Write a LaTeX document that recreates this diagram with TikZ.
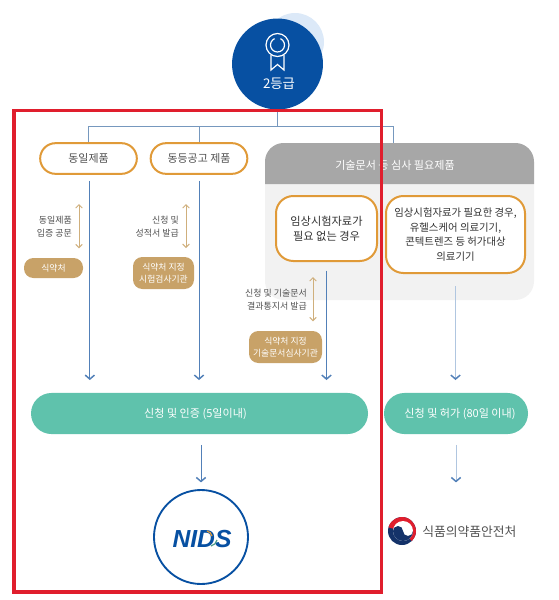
\documentclass[tikz,border=0pt]{standalone}
\usepackage{fontspec}
\setmainfont{Noto Sans CJK KR}
\newfontfamily\logofont{Liberation Sans}
\usepackage{tikz}
\usetikzlibrary{arrows.meta}
\definecolor{gradeblue}{RGB}{7,80,162}
\definecolor{gradepale}{RGB}{220,233,248}
\definecolor{treeline}{RGB}{118,152,190}
\definecolor{flowblue}{RGB}{82,128,184}
\definecolor{flowpale}{RGB}{176,198,224}
\definecolor{goldline}{RGB}{207,175,124}
\definecolor{goldbox}{RGB}{200,162,104}
\definecolor{orangeline}{RGB}{224,154,56}
\definecolor{mintbox}{RGB}{95,194,172}
\definecolor{panelgray}{RGB}{242,242,242}
\definecolor{headgray}{RGB}{167,167,167}
\definecolor{textgray}{RGB}{80,80,80}
\definecolor{redframe}{RGB}{224,30,45}
\definecolor{navyflag}{RGB}{20,50,105}
\tikzset{
  pill/.style={
    draw=orangeline, line width=1.5pt, rounded corners=11.5pt, fill=white,
    text=textgray, font=\fontsize{8.2}{10}\selectfont,
    minimum width=72.5pt, minimum height=23pt, inner sep=0pt
  },
  casebox/.style={
    draw=orangeline, line width=1.5pt, rounded corners=13pt, fill=white,
    text=black!80, font=\fontsize{8.4}{11}\selectfont, align=center, inner sep=0pt
  },
  goldbadge/.style={
    fill=goldbox, rounded corners=7pt, text=white,
    font=\fontsize{6.6}{9.2}\selectfont, align=center, inner sep=0pt
  },
  mintpill/.style={
    fill=mintbox, rounded corners=15.4pt, text=white,
    font=\fontsize{8.3}{10}\selectfont, minimum height=30.8pt, inner sep=0pt
  },
  note/.style={
    text=textgray, font=\fontsize{6.7}{9.6}\selectfont, align=right, inner sep=0pt
  },
  tree/.style={treeline, line width=0.7pt},
  flow/.style={-{Straight Barb[length=3pt,width=7pt,line width=1.1pt,color=flowblue]}, flowblue, line width=0.75pt},
  flowlight/.style={flow, flowpale},
  both/.style={{Straight Barb[length=2.5pt,width=5pt]}-{Straight Barb[length=2.5pt,width=5pt]}, goldline, line width=0.75pt}
}
\begin{document}
\begin{tikzpicture}[x=0.75pt, y=-0.75pt]
  \useasboundingbox (0,0) rectangle (558,600);
  % grade badge
  \fill[gradepale] (295,42) circle[radius=29];
  \node[circle, fill=gradeblue, minimum size=68.2pt, inner sep=0pt] (grade) at (277.5,64) {};
  \node[text=white, font=\fontsize{10}{10}\selectfont, inner sep=0pt] (gradetxt) at (279,84) {2등급};
  \coordinate (medal) at (277.5,45);
  \draw[white, line width=0.9pt] (medal) circle[radius=11.5];
  \draw[white, line width=0.9pt] ([shift={(295:7)}]medal) arc[start angle=295, end angle=605, radius=7];
  \draw[white, line width=0.9pt] (271,55) -- (271,70) -- (277.5,64.5) -- (284,70) -- (284,55);

  % gray panel
  \node[fill=panelgray, rounded corners=14pt, minimum width=201.75pt, minimum height=117.75pt, inner sep=0pt] (panel) at (399.5,221.5) {};
  \fill[headgray] (265,184) [rounded corners=14pt] -- (265,143) -- (534,143) [sharp corners] -- (534,184) -- cycle;
  \node[text=white, font=\fontsize{8.3}{10}\selectfont, inner sep=0pt] (head) at (395,165) {기술문서 등 심사 필요제품};
  \coordinate (drop) at (393,143);

  \node[pill] (same) at (88.5,158.5) {동일제품};
  \node[pill] (equal) at (199,158.5) {동등공고 제품};
  \node[casebox, minimum width=75.75pt, minimum height=48.75pt] (noclin) at (326.5,228.5) {임상시험자료가\\필요 없는 경우};
  \node[casebox, font=\fontsize{7.8}{10.9}\selectfont, minimum width=104.25pt, minimum height=57.75pt] (clin) at (455.5,234.5) {임상시험자료가 필요한 경우,\\유헬스케어 의료기기,\\콘텍트렌즈 등 허가대상\\의료기기};

  \node[goldbadge, minimum width=44.25pt, minimum height=15pt] (mfds) at (53.5,268) {식약처};
  \node[goldbadge, minimum width=45.75pt, minimum height=24pt] (lab) at (163.5,273) {식약처 지정\\시험검사기관};
  \node[goldbadge, minimum width=54.75pt, minimum height=24pt] (review) at (285.5,347) {식약처 지정\\기술문서심사기관};

  \node[note, anchor=east] (note1) at (72,226.5) {동일제품\\입증 공문};
  \node[note, anchor=east] (note2) at (179,226.5) {신청 및\\성적서 발급};
  \node[note, anchor=east] (note3) at (307,299.5) {신청 및 기술문서\\결과통지서 발급};

  \node[mintpill, minimum width=252.75pt] (cert) at (199.5,413.5) {\hspace*{-6pt}신청 및 인증 (5일이내)};
  \node[mintpill, minimum width=108pt] (permit) at (456,413.5) {\hspace*{6pt}신청 및 허가 (80일 이내)};

  \node[circle, draw=gradeblue, line width=1.4pt, fill=white, minimum size=70.5pt, inner sep=0pt] (nids) at (201,537) {};
  \node[font=\fontsize{9.6}{10}\selectfont, inner sep=0pt, text=textgray, anchor=west] (mfdsname) at (422,532) {식품의약품안전처};

  % tree
  \coordinate (bus) at (277.5,126);
  \draw[tree] (grade.south) -- (bus);
  \draw[tree] (same.north) |- (bus);
  \draw[tree] (equal.north) |- (bus);
  \draw[tree] (drop) |- (bus);

  % flows
  \draw[flow, shorten <=4.5pt, shorten >=9.5pt] ([xshift=1pt]same.south) -- ([xshift=1pt]same.south |- cert.north);
  \draw[flow, shorten <=4.5pt, shorten >=9.5pt] (equal.south) -- (equal.south |- cert.north);
  \draw[flow, shorten <=6.5pt, shorten >=9.5pt] (noclin.south) -- (noclin.south |- cert.north);
  \draw[flowlight, shorten <=9pt, shorten >=9.5pt] (clin.south) -- (clin.south |- permit.north);
  \draw[flow, shorten <=8pt, shorten >=5pt] (nids.north |- cert.south) -- (nids.north);
  \draw[flowlight, shorten <=8pt, shorten >=5pt] (permit.south) -- (permit.south |- nids.north);

  \coordinate (up1) at (79,204);
  \coordinate (up2) at (186,204);
  \coordinate (up3) at (313,277);
  \draw[both, shorten >=7pt] (up1) -- (up1 |- mfds.north);
  \draw[both, shorten >=6.5pt] (up2) -- (up2 |- lab.north);
  \draw[both, shorten >=7pt] (up3) -- (up3 |- review.north);

  % logos
  \node[text=gradeblue, font=\fontsize{18.5}{20}\logofont\bfseries\itshape, inner sep=0pt] (nidstxt) at (202,539) {NIDS};
  \draw[orangeline, line width=0.9pt] (207,531) to[bend left=30] (212,536);
  \draw[mintbox!80!black, line width=0.9pt] (211,546) to[bend right=30] (217,540);
  \coordinate (flag) at (402,531);
  \fill[navyflag] (flag) circle[radius=14];
  \fill[redframe] (flag) -- ([shift={(195:14)}]flag) arc[start angle=195, end angle=405, radius=14] -- cycle;
  \fill[white] (403,531) circle[radius=10];
  \fill[navyflag] (393,531) arc[start angle=180, end angle=0, radius=10] arc[start angle=0, end angle=180, radius=5] arc[start angle=0, end angle=-180, radius=5] -- cycle;

  % frame
  \draw[redframe, line width=2.4pt] (14,110.5) rectangle (381.5,592);
\end{tikzpicture}
\end{document}
